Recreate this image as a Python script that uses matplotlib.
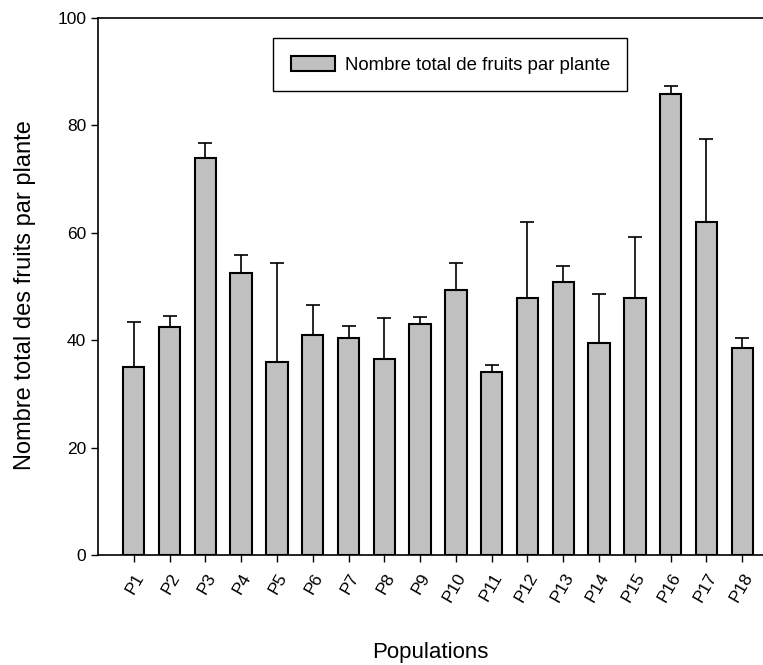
import numpy as np
import matplotlib.pyplot as plt

plt.rcParams['font.family'] = ['Liberation Sans', 'DejaVu Sans']

# mean number of fruits per plant and upper standard error, per population
populations = ['P1', 'P2', 'P3', 'P4', 'P5', 'P6', 'P7', 'P8', 'P9',
               'P10', 'P11', 'P12', 'P13', 'P14', 'P15', 'P16', 'P17', 'P18']
fruits = [35.0, 42.5, 74.0, 52.5, 36.0, 41.0, 40.4, 36.5, 43.0,
          49.4, 34.0, 47.9, 50.9, 39.5, 47.9, 85.9, 62.0, 38.5]
err_up = [8.4, 2.1, 2.7, 3.4, 18.3, 5.6, 2.2, 7.7, 1.4,
          5.0, 1.4, 14.2, 2.9, 9.1, 11.4, 1.4, 15.5, 2.0]

fig = plt.figure(figsize=(7.63, 6.65), dpi=100)
ax = fig.add_axes([0.1284, 0.1654, 0.8716, 0.8075])

x = np.arange(1, len(populations) + 1)
ax.bar(x, fruits, width=0.6, color='#c0c0c0', edgecolor='black',
       linewidth=1.5, label='Nombre total de fruits par plante', zorder=2)
ax.errorbar(x, fruits, yerr=[np.zeros(len(x)), err_up], fmt='none',
            ecolor='black', elinewidth=1.2, capsize=5.0, capthick=1.2, zorder=1)

ax.set_xlim(0, 18.58)
ax.set_ylim(0, 100)
ax.set_yticks(np.arange(0, 101, 20))
ax.set_xticks(x)
ax.set_xticklabels(populations, rotation=60, ha='right', rotation_mode='anchor')
ax.tick_params(axis='both', direction='out', length=5, width=1, labelsize=12.5)
ax.tick_params(axis='x', pad=6)

ax.spines['right'].set_visible(False)
for s in ['left', 'bottom', 'top']:
    ax.spines[s].set_linewidth(1.2)

ax.set_ylabel('Nombre total des fruits par plante', fontsize=17)
ax.yaxis.set_label_coords(-0.093, 0.484)
ax.set_xlabel('Populations', fontsize=16, labelpad=27)

leg = ax.legend(loc='upper left', bbox_to_anchor=(0.263, 0.963),
                borderaxespad=0, fontsize=13.4, fancybox=False,
                handlelength=2.4, handleheight=0.9, borderpad=0.95,
                handletextpad=0.5, framealpha=1)
leg.get_frame().set_edgecolor('black')
leg.get_frame().set_linewidth(1.0)

fig.savefig('out.png', dpi=100)
